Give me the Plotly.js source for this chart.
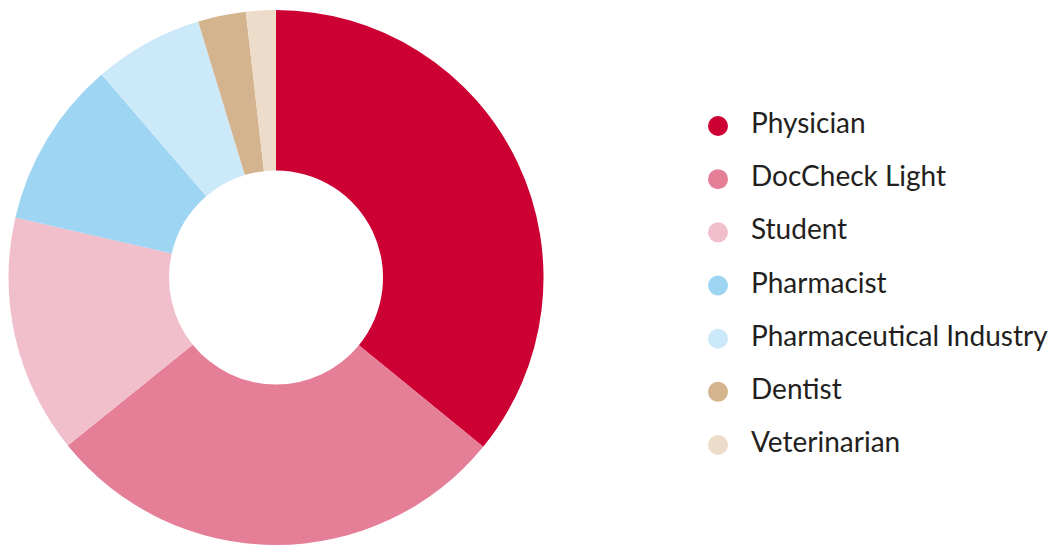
<!DOCTYPE html>
<html>
<head>
<meta charset="utf-8">
<script src="https://cdn.plot.ly/plotly-3.0.1.min.js"></script>
<style>html,body{margin:0;padding:0;background:#fff;}#chart{width:1056px;height:545px;}</style>
</head>
<body>
<div id="chart"></div>
<script>
const categories = ["Physician", "DocCheck Light", "Student", "Pharmacist", "Pharmaceutical Industry", "Dentist", "Veterinarian"];
const shares = [35.9, 28.3, 14.4, 10.1, 6.6, 2.9, 1.8];
const colors = ["#CC0033", "#E57E97", "#F1BFCC", "#9DD5F2", "#CCE9F9", "#D4B48E", "#EDDCC9"];

const rowIndex = categories.map((c, i) => i);

const pie = {
  type: "pie",
  labels: categories,
  values: shares,
  sort: false,
  direction: "clockwise",
  rotation: 0,
  hole: 0.4,
  textinfo: "none",
  hoverinfo: "label+percent",
  marker: {colors: colors, line: {width: 0}},
  showlegend: false,
  domain: {x: [0.00805, 0.5147], y: [0, 0.9817]}
};

const legendMarkers = {
  type: "scatter",
  mode: "markers",
  x: categories.map(() => 0),
  y: rowIndex,
  marker: {size: 20, color: colors},
  hoverinfo: "skip",
  showlegend: false
};

const legendText = {
  type: "scatter",
  mode: "text",
  x: categories.map(() => 33),
  y: rowIndex,
  text: categories,
  textposition: "middle right",
  textfont: {family: "Lato, 'Open Sans', sans-serif", size: 28, color: "#231F20"},
  hoverinfo: "skip",
  showlegend: false
};

const layout = {
  width: 1056,
  height: 545,
  margin: {l: 0, r: 0, t: 0, b: 0},
  paper_bgcolor: "#ffffff",
  plot_bgcolor: "rgba(0,0,0,0)",
  showlegend: false,
  xaxis: {visible: false, range: [-718, 338], fixedrange: true},
  yaxis: {visible: false, range: [7.88, -2.37], fixedrange: true}
};

Plotly.newPlot("chart", [pie, legendMarkers, legendText], layout, {displayModeBar: false, staticPlot: true});
</script>
</body>
</html>
